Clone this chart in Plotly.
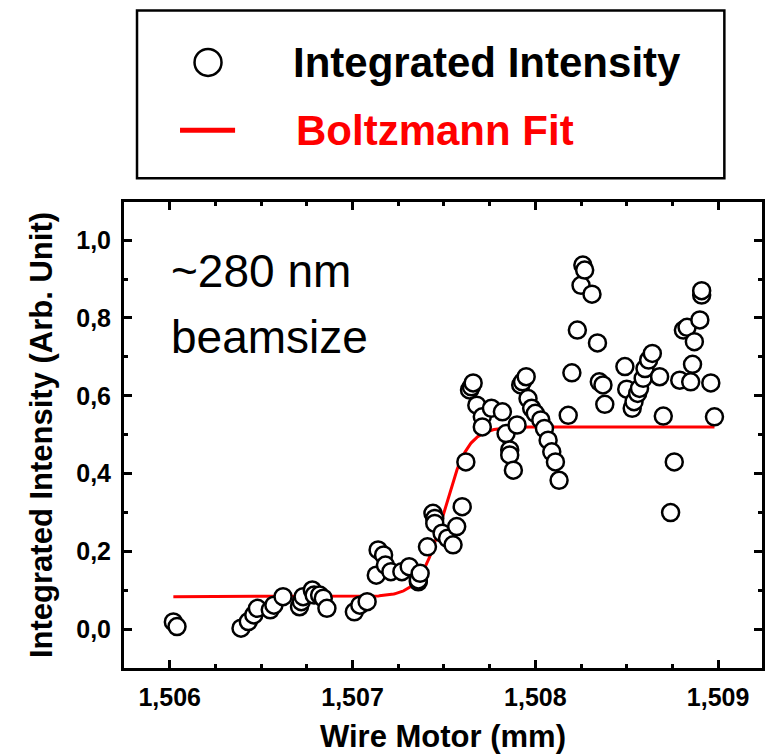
import numpy as np
import plotly.graph_objects as go

# Measured integrated intensity vs. wire motor position
wire_pos_mm = [
    1.50602, 1.50604, 1.50639, 1.50643, 1.50646, 1.50648, 1.50655, 1.50657, 1.50662, 1.50671,
    1.50672, 1.50673, 1.50678, 1.50679, 1.50682, 1.50684, 1.50686, 1.50701, 1.50704, 1.50708,
    1.50713, 1.50714, 1.50717, 1.50718, 1.50721, 1.50727, 1.50731, 1.50736, 1.50736, 1.50737,
    1.50741, 1.50744, 1.50745, 1.50745, 1.50749, 1.50752, 1.50755, 1.50757, 1.50760, 1.50762,
    1.50764, 1.50765, 1.50766, 1.50768, 1.50771, 1.50771, 1.50776, 1.50782, 1.50784, 1.50786,
    1.50786, 1.50788, 1.50790, 1.50792, 1.50793, 1.50795, 1.50796, 1.50798, 1.50800, 1.50803,
    1.50805, 1.50807, 1.50809, 1.50811, 1.50813, 1.50818, 1.50820, 1.50823, 1.50825, 1.50826,
    1.50827, 1.50831, 1.50834, 1.50835, 1.50837, 1.50838, 1.50849, 1.50850, 1.50853, 1.50854,
    1.50856, 1.50857, 1.50859, 1.50860, 1.50862, 1.50864, 1.50868, 1.50870, 1.50874, 1.50876,
    1.50879, 1.50881, 1.50883, 1.50885, 1.50886, 1.50887, 1.50890, 1.50891, 1.50891, 1.50896,
    1.50898,
]
intensity = [
    0.019, 0.007, 0.003, 0.020, 0.037, 0.054, 0.050, 0.062, 0.084, 0.058,
    0.071, 0.084, 0.101, 0.088, 0.088, 0.080, 0.054, 0.045, 0.062, 0.071,
    0.139, 0.204, 0.191, 0.165, 0.148, 0.148, 0.161, 0.122, 0.127, 0.144,
    0.212, 0.298, 0.285, 0.272, 0.247, 0.234, 0.217, 0.264, 0.315, 0.430,
    0.615, 0.623, 0.633, 0.576, 0.546, 0.520, 0.568, 0.559, 0.503, 0.461,
    0.448, 0.409, 0.525, 0.628, 0.636, 0.649, 0.593, 0.568, 0.555, 0.538,
    0.516, 0.486, 0.456, 0.430, 0.383, 0.550, 0.659, 0.769, 0.884, 0.936,
    0.923, 0.861, 0.736, 0.636, 0.628, 0.578, 0.675, 0.617, 0.568, 0.585,
    0.606, 0.619, 0.645, 0.670, 0.692, 0.709, 0.649, 0.548, 0.300, 0.430,
    0.640, 0.769, 0.776, 0.636, 0.681, 0.739, 0.795, 0.859, 0.870, 0.633,
    0.546,
]

# Boltzmann fit parameters
fit_A1 = 0.084      # lower plateau
fit_A2 = 0.520      # upper plateau
fit_x0 = 1.50750    # centre (mm)
fit_dx = 0.000066   # width (mm)
fit_x_start = 1.50602
fit_x_end = 1.50898

x_ticks = [1.506, 1.507, 1.508, 1.509]
y_ticks = [0.0, 0.2, 0.4, 0.6, 0.8, 1.0]

fit_x = np.linspace(fit_x_start, fit_x_end, 600)
fit_y = fit_A2 + (fit_A1 - fit_A2) / (1 + np.exp((fit_x - fit_x0) / fit_dx))

FONT = "Liberation Sans, Arial, sans-serif"
RED = "#ff0000"

fig = go.Figure()
fig.add_trace(go.Scatter(
    x=fit_x, y=fit_y, mode="lines",
    line=dict(color=RED, width=3),
    showlegend=False, hoverinfo="skip",
))
fig.add_trace(go.Scatter(
    x=wire_pos_mm, y=intensity, mode="markers",
    marker=dict(symbol="circle", size=17, color="white",
                line=dict(color="black", width=2.5)),
    showlegend=False,
))

axis_common = dict(
    showline=True, linecolor="black", linewidth=3, mirror="ticks",
    ticks="inside", ticklen=8, tickwidth=3, tickcolor="black",
    showgrid=False, zeroline=False, ticklabelstandoff=5, automargin=False,
    tickfont=dict(family=FONT, size=25, color="black", weight="bold"),
)

fig.update_xaxes(
    range=[1.50575, 1.50924], tickvals=x_ticks, tickformat=".3f",
    minor=dict(dtick=0.00025, tick0=1.506, ticks="inside", ticklen=4,
               tickwidth=3, tickcolor="black"),
    title=dict(text="<b>Wire Motor (mm)</b>", standoff=16,
               font=dict(family=FONT, size=31, color="black")),
    **axis_common,
)
fig.update_yaxes(
    range=[-0.0994, 1.098], tickvals=y_ticks, tickformat=".1f",
    minor=dict(dtick=0.1, tick0=0, ticks="inside", ticklen=4,
               tickwidth=3, tickcolor="black"),
    title=dict(text="<b>Integrated Intensity (Arb. Unit)</b>", standoff=15,
               font=dict(family=FONT, size=31, color="black")),
    **axis_common,
)

# Inset text
fig.add_annotation(x=0.070, y=0.852, xref="paper", yref="paper",
                   text="~280 nm", showarrow=False, xanchor="left", yanchor="middle",
                   font=dict(family=FONT, size=46, color="black"))
fig.add_annotation(x=0.070, y=0.711, xref="paper", yref="paper",
                   text="beamsize", showarrow=False, xanchor="left", yanchor="middle",
                   font=dict(family=FONT, size=46, color="black"))

# Legend panel above the plot
fig.add_shape(type="rect", xref="paper", yref="paper",
              x0=0.0204, x1=0.941, y0=1.0508, y1=1.4111,
              line=dict(color="black", width=2.5), fillcolor="white")
fig.add_shape(type="circle", xref="paper", yref="paper",
              xsizemode="pixel", ysizemode="pixel",
              xanchor=0.1317, yanchor=1.2996,
              x0=-13.5, x1=13.5, y0=-13.5, y1=13.5,
              line=dict(color="black", width=2.5), fillcolor="white")
fig.add_shape(type="line", xref="paper", yref="paper",
              x0=0.0878, x1=0.1741, y0=1.1538, y1=1.1538,
              line=dict(color=RED, width=5))
fig.add_annotation(x=0.262, y=1.2996, xref="paper", yref="paper",
                   text="<b>Integrated Intensity</b>", showarrow=False,
                   xanchor="left", yanchor="middle",
                   font=dict(family=FONT, size=42, color="black"))
fig.add_annotation(x=0.266, y=1.1538, xref="paper", yref="paper",
                   text="<b>Boltzmann Fit</b>", showarrow=False,
                   xanchor="left", yanchor="middle",
                   font=dict(family=FONT, size=42, color=RED))

fig.update_layout(
    width=772, height=756,
    margin=dict(l=124, r=10, t=202, b=88),
    paper_bgcolor="white", plot_bgcolor="white",
    separators=",.",
    showlegend=False,
    font=dict(family=FONT, color="black"),
)

fig.write_html("out.html")
